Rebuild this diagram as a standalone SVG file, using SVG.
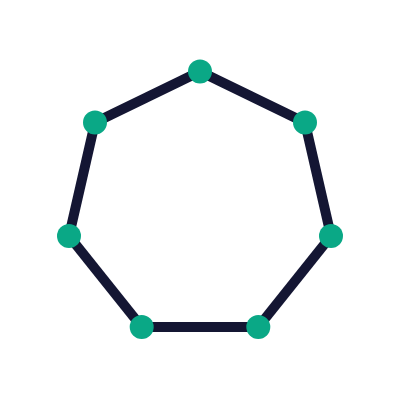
<svg xmlns="http://www.w3.org/2000/svg" width="400" height="400" viewBox="0 0 400 400">
<style>
.edge{stroke:#141633;stroke-width:10;fill:none;stroke-linecap:butt}
.node{fill:#0aa886}
</style>
<rect width="400" height="400" fill="#ffffff"/>
<g id="connectors">
<line class="edge" x1="200" y1="71.5" x2="305" y2="122.5"/>
<line class="edge" x1="305" y1="122.5" x2="331" y2="236"/>
<line class="edge" x1="331" y1="236" x2="258.3" y2="327"/>
<line class="edge" x1="258.3" y1="327" x2="141.7" y2="327"/>
<line class="edge" x1="141.7" y1="327" x2="69" y2="236"/>
<line class="edge" x1="69" y1="236" x2="95" y2="122.5"/>
<line class="edge" x1="95" y1="122.5" x2="200" y2="71.5"/>
</g>
<g id="n1"><circle class="node" cx="200" cy="71.5" r="12"/></g>
<g id="n2"><circle class="node" cx="305" cy="122.5" r="12"/></g>
<g id="n3"><circle class="node" cx="331" cy="236" r="12"/></g>
<g id="n4"><circle class="node" cx="258.3" cy="327" r="12"/></g>
<g id="n5"><circle class="node" cx="141.7" cy="327" r="12"/></g>
<g id="n6"><circle class="node" cx="69" cy="236" r="12"/></g>
<g id="n7"><circle class="node" cx="95" cy="122.5" r="12"/></g>
</svg>
